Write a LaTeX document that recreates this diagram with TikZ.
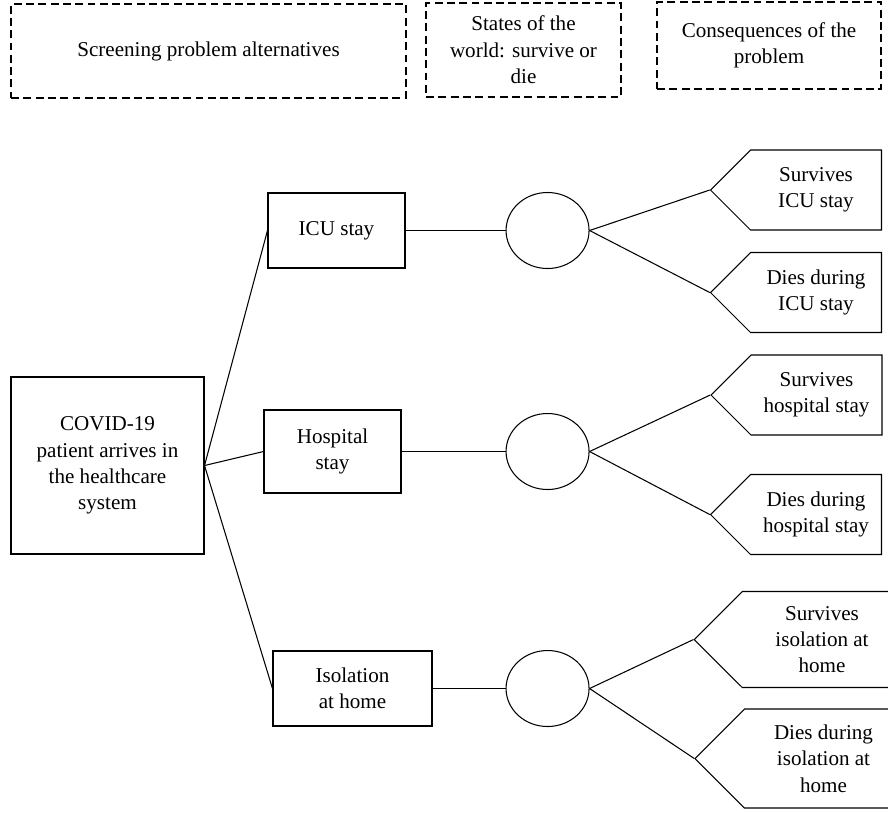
\documentclass[tikz,border=0pt]{standalone}
\usepackage{fontspec}
\setmainfont{Liberation Serif}
\usepackage{tikz}
\usetikzlibrary{positioning,
                shapes.geometric,
                shapes.symbols}
\tikzstyle{header} = [draw, dash pattern=on 4.5pt off 2.5pt, align=center, inner sep=2pt]
\tikzstyle{altbox} = [draw, rectangle, align=center, minimum width=2.74cm, minimum height=1.5cm]
\tikzstyle{chance} = [draw, ellipse, minimum width=1.66cm, minimum height=1.52cm]
\tikzstyle{outcome} = [draw, signal, signal from=nowhere, signal to=west, signal pointer angle=90, align=center, inner sep=1pt]
\tikzstyle{branch} = [line width=0.6pt]

\begin{document}
\begin{tikzpicture}[font=\fontsize{12}{15}\selectfont, line width=0.6pt]
    \useasboundingbox (0,0) rectangle (17.76,-16.24);
    \clip (0,0) rectangle (17.76,-16.24);

    % column headings
    \node[header, minimum width=7.9cm, minimum height=1.88cm] (hd1) at (4.17,-1.02) {Screening problem alternatives};
    \node[header, minimum width=3.9cm, minimum height=1.88cm] (hd2) at (10.47,-1.0) {States of the\\world: survive or\\die};
    \node[header, minimum width=4.48cm, minimum height=1.74cm] (hd3) at (15.38,-0.91) {Consequences of the\\problem};

    % decision and alternatives
    \node[draw, rectangle, align=center, minimum width=3.86cm, minimum height=3.54cm] (pt) at (2.15,-9.31) {COVID-19\\patient arrives in\\the healthcare\\system};
    \node[altbox] (alt1) at (6.73,-4.61) {ICU stay};
    \node[altbox, minimum height=1.66cm] (alt2) at (6.65,-9.03) {Hospital\\stay};
    \node[altbox, minimum width=3.18cm] (alt3) at (7.05,-13.77) {Isolation\\at home};

    % chance nodes
    \node[chance] (ch1) [right = 2cm of alt1] {};
    \node[chance] (ch2) [right = 2.08cm of alt2] {};
    \node[chance] (ch3) [right = 1.46cm of alt3] {};

    % consequences
    \node[outcome, minimum width=3.42cm, minimum height=1.6cm] (out1) at (16.32,-3.8) {Survives\\ICU stay};
    \node[outcome, minimum width=3.42cm, minimum height=1.6cm] (out2) at (16.32,-5.85) {Dies during\\ICU stay};
    \node[outcome, minimum width=3.42cm, minimum height=1.6cm] (out3) at (16.33,-7.9) {Survives\\hospital stay};
    \node[outcome, minimum width=3.42cm, minimum height=1.6cm] (out4) at (16.32,-10.29) {Dies during\\hospital stay};
    \node[outcome, minimum width=4.15cm, minimum height=1.92cm] (out5) at (16.44,-12.79) {Survives\\isolation at\\home};
    \node[outcome, minimum width=4.15cm, minimum height=1.98cm] (out6) at (16.47,-15.17) {Dies during\\isolation at\\home};

    \draw [branch] (pt.east) -- (alt1.west);
    \draw [branch] (pt.east) -- (alt2.west);
    \draw [branch] (pt.east) -- (alt3.west);
    \draw [branch] (alt1) -- (ch1);
    \draw [branch] (alt2) -- (ch2);
    \draw [branch] (alt3) -- (ch3);
    \draw [branch] (ch1.east) -- (out1.west);
    \draw [branch] (ch1.east) -- (out2.west);
    \draw [branch] (ch2.east) -- (out3.west);
    \draw [branch] (ch2.east) -- (out4.west);
    \draw [branch] (ch3.east) -- (out5.west);
    \draw [branch] (ch3.east) -- (out6.west);
\end{tikzpicture}
\end{document}
